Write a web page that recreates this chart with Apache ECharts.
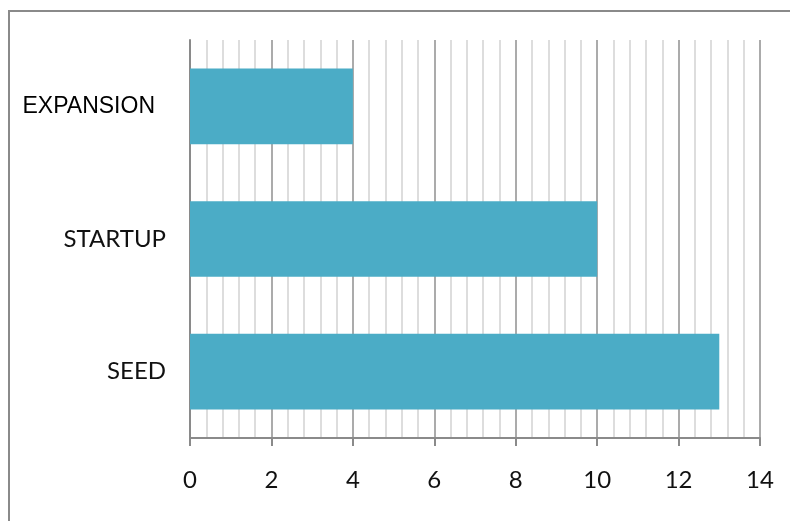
<!DOCTYPE html>
<html>
<head>
<meta charset="utf-8">
<script src="https://cdn.jsdelivr.net/npm/echarts@6/dist/echarts.min.js"></script>
<style>
  html, body { margin: 0; padding: 0; background: #fff; }
  #main { width: 790px; height: 521px; }
</style>
</head>
<body>
<div id="main"></div>
<script>
// data, bottom to top
let stages = ['SEED', 'STARTUP', 'EXPANSION'];
let counts = [13, 10, 4];
let xTicks = [0, 2, 4, 6, 8, 10, 12, 14];

let chart = echarts.init(document.getElementById('main'));

chart.setOption({
    animation: false,
    grid: { left: 190, right: 30, top: 40, bottom: 83 },
    graphic: [
        {
            type: 'rect',
            shape: { x: 9, y: 11, width: 800, height: 530 },
            style: { fill: 'none', stroke: '#8a8a8a', lineWidth: 2 },
            silent: true
        }
    ],
    xAxis: {
        type: 'value',
        min: xTicks[0],
        max: xTicks[xTicks.length - 1],
        interval: 2,
        axisLine: { show: true, lineStyle: { color: '#8a8a8a', width: 2 } },
        axisTick: { show: true, length: 8, lineStyle: { color: '#8a8a8a', width: 2 } },
        axisLabel: {
            margin: 30,
            color: '#111',
            fontFamily: 'Lato',
            fontSize: 24
        },
        splitLine: { show: true, lineStyle: { color: '#8f8f8f', width: 1.5 } },
        minorTick: { show: false, splitNumber: 5 },
        minorSplitLine: { show: true, lineStyle: { color: '#d2d2d2', width: 1.5 } }
    },
    yAxis: {
        type: 'category',
        data: stages,
        axisLine: { show: true, lineStyle: { color: '#8a8a8a', width: 2 } },
        axisTick: { show: false },
        axisLabel: {
            margin: 24,
            formatter: function (v) {
                return v == 'EXPANSION' ? '{e|' + v + '}' : '{c|' + v + '}';
            },
            rich: {
                e: { fontFamily: 'Liberation Sans', fontSize: 23, color: '#000', padding: [0, 11, 0, 0] },
                c: { fontFamily: 'Lato', fontSize: 24, color: '#111' }
            }
        }
    },
    series: [
        {
            type: 'bar',
            data: counts,
            barCategoryGap: '43%',
            itemStyle: { color: '#4BACC6' }
        }
    ]
});
</script>
</body>
</html>
